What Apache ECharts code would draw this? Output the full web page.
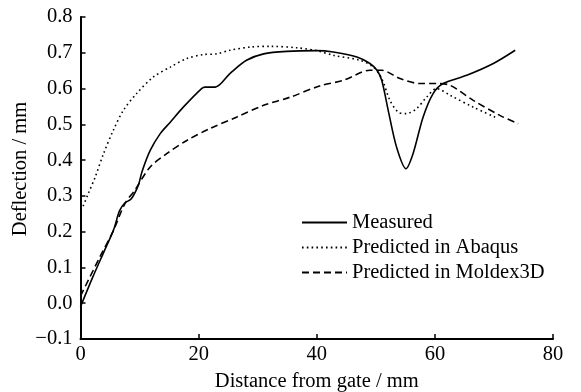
<!DOCTYPE html>
<html>
<head>
<meta charset="utf-8">
<script src="https://cdn.jsdelivr.net/npm/echarts@6/dist/echarts.min.js"></script>
<style>
html,body{margin:0;padding:0;background:#fff;}
#chart{width:581px;height:392px;}
</style>
</head>
<body>
<div id="chart"></div>
<script>
// Measured
const measuredX = [0, 2, 4, 5.6, 6.6, 7.5, 8.6, 9.8, 10.4, 11.8, 13.5, 15.2, 17.4, 20.5, 21.1, 22.8, 25.3, 28.1, 31.0, 34.9, 40.0, 42.8, 46.8, 49.0, 50.2, 51.0, 52.1, 53.5, 55.1, 56.3, 58.0, 59.7, 61.4, 65.4, 69.9, 73.6];
const measuredY = [-0.01, 0.07, 0.145, 0.205, 0.258, 0.28, 0.292, 0.33, 0.367, 0.427, 0.474, 0.506, 0.548, 0.600, 0.604, 0.604, 0.642, 0.679, 0.697, 0.704, 0.706, 0.702, 0.688, 0.67, 0.651, 0.623, 0.539, 0.437, 0.376, 0.418, 0.52, 0.586, 0.614, 0.637, 0.67, 0.707];
// Predicted in Abaqus
const abaqusX = [0, 0.4, 1.3, 2.5, 3.9, 5.55, 7.25, 9.5, 12.3, 15.2, 18.0, 20.8, 23.1, 25.3, 28.7, 32.1, 36.6, 40, 42.8, 47.3, 49.6, 51.0, 52.4, 53.8, 55.2, 56.9, 58.6, 60.3, 62.6, 66.5, 70.2];
const abaqusY = [0.26, 0.27, 0.306, 0.353, 0.418, 0.483, 0.539, 0.586, 0.632, 0.66, 0.684, 0.695, 0.697, 0.707, 0.716, 0.718, 0.714, 0.706, 0.693, 0.679, 0.66, 0.628, 0.567, 0.534, 0.53, 0.544, 0.576, 0.60, 0.581, 0.548, 0.52];
// Predicted in Moldex3D
const moldexX = [0, 3.3, 5.6, 7.5, 9.2, 11.8, 14.6, 18.0, 21.9, 26.4, 31.0, 35.5, 40.6, 44.5, 49.0, 51.0, 54.1, 57.5, 60.3, 62.6, 66.5, 71.0, 74.1];
const moldexY = [0.02, 0.13, 0.204, 0.278, 0.316, 0.381, 0.418, 0.455, 0.488, 0.52, 0.553, 0.576, 0.608, 0.623, 0.651, 0.651, 0.628, 0.614, 0.614, 0.609, 0.567, 0.525, 0.502];

const seriesNames = ['Measured', 'Predicted in Abaqus', 'Predicted in Moldex3D'];
const xTicks = [0, 20, 40, 60, 80];
const yTicks = [-0.1, 0, 0.1, 0.2, 0.3, 0.4, 0.5, 0.6, 0.7, 0.8];

function pairs(xs, ys) { return xs.map((x, i) => [x, ys[i]]); }

const font = '"Liberation Serif", "Times New Roman", "DejaVu Serif", serif';
const fs = 20.5;
const chart = echarts.init(document.getElementById('chart'));
chart.setOption({
  animation: false,
  backgroundColor: '#fff',
  grid: { left: 80.5, right: 28, top: 17, bottom: 53, containLabel: false, outerBoundsMode: 'none' },
  legend: {
    orient: 'vertical',
    left: 301,
    top: 212,
    padding: 0,
    itemWidth: 45,
    itemHeight: 14,
    itemGap: 4,
    itemStyle: { opacity: 0 },
    textStyle: { fontFamily: font, fontSize: fs, color: '#000' },
    data: seriesNames
  },
  xAxis: {
    type: 'value',
    min: xTicks[0], max: xTicks[xTicks.length - 1], interval: 20,
    name: 'Distance from gate / mm',
    nameLocation: 'middle',
    nameGap: 32,
    nameMoveOverlap: false,
    nameTextStyle: { fontFamily: font, fontSize: fs, color: '#000' },
    axisLine: { onZero: false, lineStyle: { color: '#000', width: 2 } },
    axisTick: { inside: true, length: 5, lineStyle: { color: '#000', width: 1.5 } },
    axisLabel: { fontFamily: font, fontSize: fs, color: '#000', margin: 5 },
    splitLine: { show: false }
  },
  yAxis: {
    type: 'value',
    min: yTicks[0], max: yTicks[yTicks.length - 1], interval: 0.1,
    name: 'Deflection / mm',
    nameLocation: 'middle',
    nameGap: 49,
    nameMoveOverlap: false,
    nameTextStyle: { fontFamily: font, fontSize: fs, color: '#000', padding: [0, 0, 0, 18] },
    axisLine: { onZero: false, lineStyle: { color: '#000', width: 2 } },
    axisTick: { inside: true, length: 5, lineStyle: { color: '#000', width: 1.5 } },
    axisLabel: {
      fontFamily: font, fontSize: fs, color: '#000', margin: 8,
      formatter: v => (Math.round(v * 10) / 10).toFixed(1).replace('-', '\u2212')
    },
    splitLine: { show: false }
  },
  series: [
    {
      name: seriesNames[0], type: 'line', data: pairs(measuredX, measuredY),
      smooth: 0.3, symbol: 'none',
      lineStyle: { color: '#000', width: 1.6, type: 'solid' },
      itemStyle: { color: '#000' }
    },
    {
      name: seriesNames[1], type: 'line', data: pairs(abaqusX, abaqusY),
      smooth: 0.3, symbol: 'none',
      lineStyle: { color: '#000', width: 1.6, type: [1.6, 3.2] },
      itemStyle: { color: '#000' }
    },
    {
      name: seriesNames[2], type: 'line', data: pairs(moldexX, moldexY),
      smooth: 0.3, symbol: 'none',
      lineStyle: { color: '#000', width: 1.6, type: [7, 4] },
      itemStyle: { color: '#000' }
    }
  ]
});
</script>
</body>
</html>
